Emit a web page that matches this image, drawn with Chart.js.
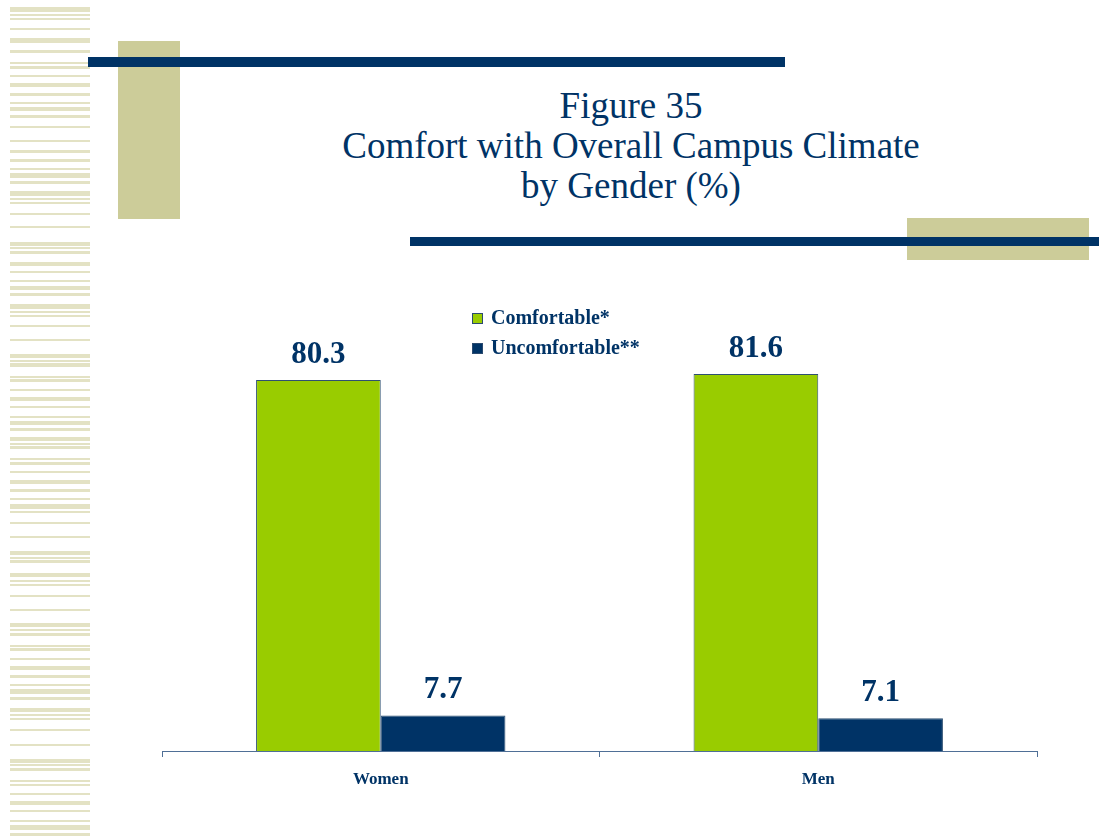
<!DOCTYPE html>
<html>
<head>
<meta charset="utf-8">
<script src="https://cdn.jsdelivr.net/npm/chart.js@4.4.1/dist/chart.umd.min.js"></script>
<style>
  html, body { margin: 0; padding: 0; background: #fff; }
  #page { position: relative; width: 1099px; height: 837px; overflow: hidden; }
  .deco { position: absolute; }
  .stripe { position: absolute; left: 10px; width: 80px; background: #e3e2c4; }
  #title {
    position: absolute; left: 260px; width: 742px; top: 86px;
    text-align: center; color: #003366;
    font-family: "Liberation Serif", "Times New Roman", serif;
    font-size: 37px; line-height: 40px;
  }
  #chartWrap { position: absolute; left: 0; top: 0; width: 1099px; height: 837px; }
</style>
</head>
<body>
<div id="page">
  <div id="stripes"></div>
  <div class="deco" style="left:118px;top:41px;width:62px;height:178px;background:#cccc99;"></div>
  <div class="deco" style="left:88px;top:57px;width:697px;height:10px;background:#003366;"></div>
  <div class="deco" style="left:907px;top:218px;width:182px;height:42px;background:#cccc99;"></div>
  <div class="deco" style="left:410px;top:237px;width:689px;height:9px;background:#003366;"></div>
  <div id="title">Figure 35<br>Comfort with Overall Campus Climate<br>by Gender (%)</div>
  <div id="chartWrap"><canvas id="genderChart" width="1099" height="837"></canvas></div>
</div>
<script>
// data
var categories = ['Women', 'Men'];
var seriesNames = ['Comfortable*', 'Uncomfortable**'];
var comfortable = [80.3, 81.6];
var uncomfortable = [7.7, 7.1];

// striped band down the left edge: [top, height]
var stripeRows = [
  [7,5],[14,2],[18,2],[28,2],[38,5],[50,3],[62,2],[66,3],[75,2],[83,4],[93,3],[102,2],[107,4],
  [115,3],[126,2],[140,2],[150,3],[159,3],[168,2],[173,5],[181,3],[191,5],[198,2],[202,2],
  [213,2],[226,2],[242,4],[247,2],[251,3],[262,4],[271,2],[280,2],[286,4],[293,3],[304,5],
  [311,2],[315,2],[325,2],[339,2],[354,4],[360,2],[363,4],[376,2],[379,3],[389,2],[397,4],
  [406,2],[416,2],[421,4],[428,3],[437,4],[443,2],[446,3],[458,2],[462,3],[471,2],[480,4],
  [489,3],[498,2],[504,5],[511,2],[522,2],[536,2],[551,4],[557,2],[560,3],[573,4],[580,2],
  [584,2],[595,2],[609,2],[623,4],[629,2],[633,3],[645,2],[648,3],[658,2],[666,4],[675,3],
  [684,2],[689,5],[697,3],[708,4],[714,2],[718,2],[729,2],[744,2],[759,4],[764,2],[768,3],
  [780,2],[784,2],[793,2],[801,4],[810,2],[820,2],[825,5],[833,3]
];
var stripeBox = document.getElementById('stripes');
stripeRows.forEach(function(r) {
  var d = document.createElement('div');
  d.className = 'stripe';
  d.style.top = r[0] + 'px';
  d.style.height = r[1] + 'px';
  stripeBox.appendChild(d);
});

var navy = '#003366';
var serif = '"Liberation Serif", "Times New Roman", serif';

// value labels above each bar
var valueLabels = {
  id: 'valueLabels',
  afterDatasetsDraw: function(chart) {
    var ctx = chart.ctx;
    ctx.save();
    ctx.font = 'bold 31px ' + serif;
    ctx.fillStyle = navy;
    ctx.textAlign = 'center';
    ctx.textBaseline = 'alphabetic';
    chart.data.datasets.forEach(function(ds, i) {
      chart.getDatasetMeta(i).data.forEach(function(bar, j) {
        ctx.fillText(ds.data[j].toFixed(1), bar.x, bar.y - 17);
      });
    });
    ctx.restore();
  }
};

// legend box sitting between the two groups
var boxLegend = {
  id: 'boxLegend',
  afterDraw: function(chart) {
    var ctx = chart.ctx;
    ctx.save();
    ctx.font = 'bold 20px ' + serif;
    ctx.textBaseline = 'middle';
    chart.data.datasets.forEach(function(ds, i) {
      var y = 318 + i * 30;
      ctx.fillStyle = ds.backgroundColor;
      ctx.fillRect(472, y - 5, 10, 10);
      ctx.strokeStyle = '#2b4a6f';
      ctx.lineWidth = 1;
      ctx.strokeRect(472.5, y - 4.5, 10, 10);
      ctx.fillStyle = navy;
      ctx.fillText(ds.label, 491, y + 1);
    });
    ctx.restore();
  }
};

var ctxGender = document.getElementById('genderChart').getContext('2d');
var genderChart = new Chart(ctxGender, {
    type: 'bar',
    data: {
        labels: categories,
        datasets: [{
            label: seriesNames[0],
            data: comfortable,
            backgroundColor: '#99cc00',
            borderColor: '#2f5072',
            borderWidth: 1
        }, {
            label: seriesNames[1],
            data: uncomfortable,
            backgroundColor: navy,
            borderColor: '#2f5072',
            borderWidth: 1
        }]
    },
    options: {
        responsive: false,
        animation: false,
        layout: { padding: { left: 162, right: 62, top: 289, bottom: 50 } },
        datasets: { bar: { barPercentage: 1.0, categoryPercentage: 0.57 } },
        scales: {
            x: {
                border: { display: true, color: '#4f6f96', width: 1 },
                grid: { display: true, offset: true, drawOnChartArea: false, drawTicks: true, tickLength: 6, color: '#4f6f96' },
                ticks: { color: navy, padding: 12, font: { family: serif, size: 17, weight: 'bold' } },
                afterFit: function(scale) { scale.height = 36; }
            },
            y: {
                display: false,
                min: 0,
                max: 100
            }
        },
        plugins: {
            legend: { display: false },
            tooltip: { enabled: false }
        }
    },
    plugins: [valueLabels, boxLegend]
});
</script>
</body>
</html>
